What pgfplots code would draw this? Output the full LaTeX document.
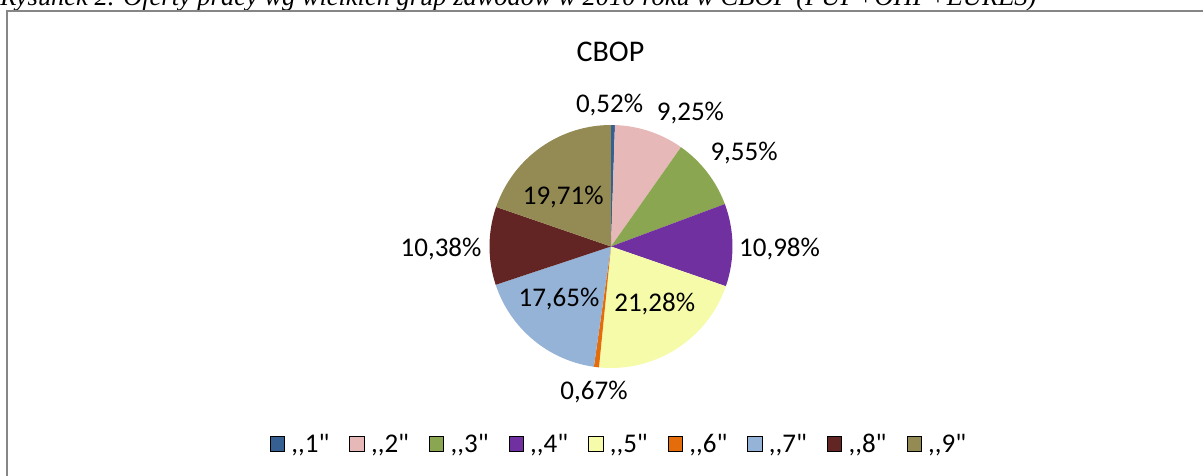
\documentclass[border=0pt]{standalone}
\usepackage{fontspec}
\setmainfont{Carlito}[Ligatures=TeXOff]
\newfontfamily\capfont{Liberation Serif}
\usepackage{graphicx}
\usepackage{pgfplots}
\usepackage{pgfplotstable}
\pgfplotsset{compat=1.18}

\definecolor{c0}{HTML}{376092}
\definecolor{c1}{HTML}{E6B9B8}
\definecolor{c2}{HTML}{8BA650}
\definecolor{c3}{HTML}{7030A0}
\definecolor{c4}{HTML}{F5FBA9}
\definecolor{c5}{HTML}{E46C0A}
\definecolor{c6}{HTML}{95B3D7}
\definecolor{c7}{HTML}{632523}
\definecolor{c8}{HTML}{948A54}
\definecolor{frame}{RGB}{134,134,134}

% group, share in %, label position (axis units, baseline)
\pgfplotstableread{
grp value lx ly
1 0.52 -0.012 1.101
2 9.25 0.654 1.041
3 9.55 1.095 0.704
4 10.98 1.387 -0.084
5 21.28 0.360 -0.537
6 0.67 -0.140 -1.263
7 17.65 -0.428 -0.495
8 10.38 -1.399 -0.084
9 19.71 -0.393 0.347
}\piedata

\newcommand\pieR{91.125pt}
\newcommand\lblfont{\fontsize{20.25pt}{24pt}\selectfont}

\pgfmathsetmacro\cum{0}
\pgfplotsforeachungrouped \i in {0,...,8}{%
  \pgfplotstablegetelem{\i}{value}\of\piedata
  \let\v\pgfplotsretval
  \pgfmathsetmacro\a{90-3.6*\cum}%
  \pgfmathsetmacro\b{90-3.6*(\cum+\v)}%
  \expandafter\xdef\csname pieA\i\endcsname{\a}%
  \expandafter\xdef\csname pieB\i\endcsname{\b}%
  \pgfmathprintnumberto[fixed,fixed zerofill,precision=2,use comma,assume math mode=true]{\v}{\tmp}%
  \global\expandafter\let\csname pieT\i\endcsname\tmp
  \pgfplotstablegetelem{\i}{lx}\of\piedata
  \expandafter\xdef\csname pieLX\i\endcsname{\pgfplotsretval}%
  \pgfplotstablegetelem{\i}{ly}\of\piedata
  \expandafter\xdef\csname pieLY\i\endcsname{\pgfplotsretval}%
  \pgfmathsetmacro\cum{\cum+\v}%
}

\begin{document}
\begin{tikzpicture}
\useasboundingbox (0,0) rectangle (902.25pt,-356.25pt);
\clip (0,0) rectangle (902.25pt,-356.25pt);
\node[anchor=base west, inner sep=0pt] at (0pt,-4.3pt)
  {\resizebox{777pt}{!}{\capfont\itshape Rysunek 2. Oferty pracy wg wielkich grup zawodów w 2010 roku w CBOP (PUP+OHP+EURES)}};
\draw[frame, line width=1.1pt] (5.25pt,-8.2pt) rectangle (1000pt,-500pt);
\begin{axis}[
  at={(458.25pt,-184.875pt)}, anchor=center,
  x=91.125pt, y=91.125pt,
  xmin=-3.5, xmax=3.5, ymin=-2.3, ymax=2.3,
  axis lines=none, clip=false,
  legend columns=9,
  legend image code/.code={\fill[#1] (0pt,-5.4pt) rectangle (10.8pt,5.4pt);},
  legend style={at={(0.5082,0.1467)}, anchor=center, draw=none, fill=none,
    font=\lblfont, nodes={inner sep=0pt},
    /tikz/every odd column/.append style={column sep=5pt},
    /tikz/every even column/.append style={column sep=15pt}},
]
\pgfplotsinvokeforeach{0,...,8}{
  \fill[c#1] (axis cs:0,0) -- ++(\csname pieA#1\endcsname:\pieR)
     arc[start angle=\csname pieA#1\endcsname, end angle=\csname pieB#1\endcsname, radius=\pieR] -- cycle;
}
\pgfplotsinvokeforeach{0,...,8}{
  \node[font=\lblfont, inner sep=0pt, anchor=base]
    at (axis cs:\csname pieLX#1\endcsname,\csname pieLY#1\endcsname) {\csname pieT#1\endcsname\%};
}
\node[font=\fontsize{22.5pt}{27pt}\selectfont, inner sep=0pt, anchor=base] at (axis cs:-0.004,1.521) {CBOP};
\addlegendimage{fill=c0}\addlegendentry{,,1"}
\addlegendimage{fill=c1}\addlegendentry{,,2"}
\addlegendimage{fill=c2}\addlegendentry{,,3"}
\addlegendimage{fill=c3}\addlegendentry{,,4"}
\addlegendimage{fill=c4}\addlegendentry{,,5"}
\addlegendimage{fill=c5}\addlegendentry{,,6"}
\addlegendimage{fill=c6}\addlegendentry{,,7"}
\addlegendimage{fill=c7}\addlegendentry{,,8"}
\addlegendimage{fill=c8}\addlegendentry{,,9"}
\end{axis}
\end{tikzpicture}
\end{document}
